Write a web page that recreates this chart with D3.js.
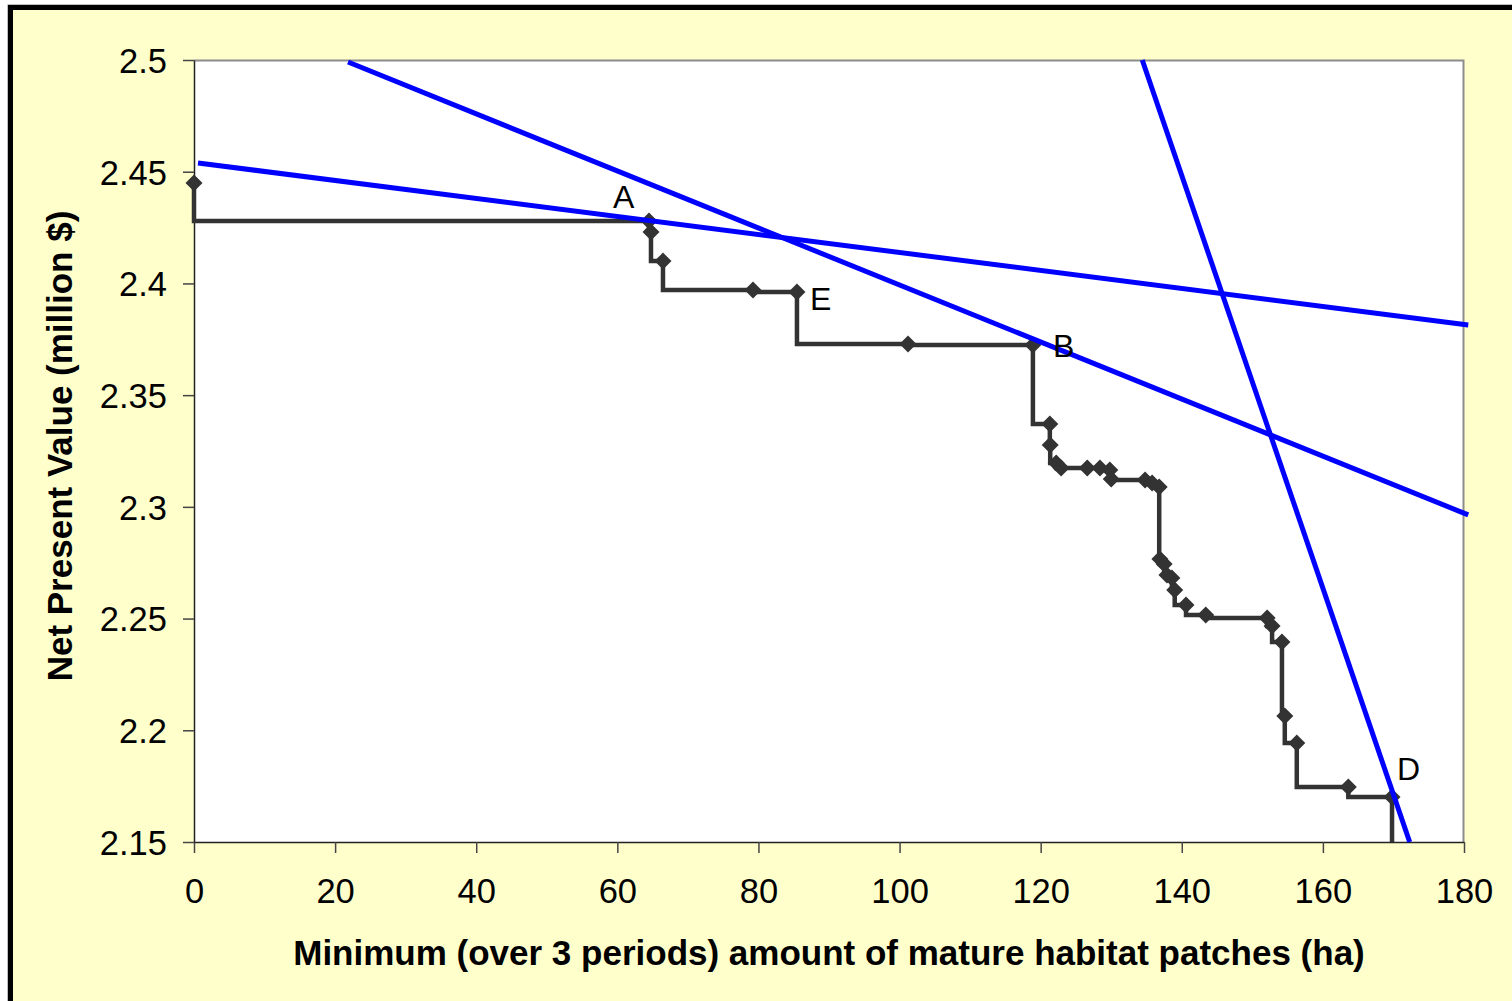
<!DOCTYPE html>
<html>
<head>
<meta charset="utf-8">
<script src="https://cdn.jsdelivr.net/npm/d3@7"></script>
<style>
  html, body { margin: 0; padding: 0; background: #ffffff; }
  svg { display: block; font-family: "Liberation Sans", Arial, sans-serif; }
</style>
</head>
<body>
<div id="chart-container"></div>
<script>
// Step frontier: minimum mature habitat (ha) vs NPV (million $)
const habitatHa = [
  0, 64.49, 64.77, 66.47, 79.23, 85.46, 101.2, 118.9, 121.3, 121.35,
  122.2, 122.9, 126.6, 128.4, 129.8, 130.0, 134.8, 135.8, 136.8, 136.9,
  137.5, 137.9, 138.6, 139.0, 140.6, 143.4, 152.1, 152.8, 154.2, 154.6,
  156.3, 163.6, 169.8, 169.8
];
const npvMillion = [
  2.4449, 2.4279, 2.423, 2.41, 2.3971, 2.3962, 2.3729, 2.3724, 2.3371, 2.3277,
  2.3196, 2.3174, 2.3174, 2.3174, 2.3165, 2.3125, 2.312, 2.3107, 2.3089, 2.2767,
  2.2744, 2.2695, 2.2682, 2.2628, 2.2561, 2.2516, 2.2503, 2.2467, 2.2395, 2.2064,
  2.1943, 2.1746, 2.1701, 2.15
];
// last point is only the drop to the axis, it carries no marker
const markerCount = 33;

// Straight blue lines (start and end, in data units)
const lineShallow = [[0.57, 2.4539], [180.6, 2.3814]];
const lineMedium = [[21.83, 2.4991], [180.6, 2.2964]];
const lineSteep = [[134.4, 2.5], [172.3, 2.15]];

// Point labels and the frontier point each one sits next to
const pointLabels = ["A", "E", "B", "D"];
const labelPointIndex = [1, 5, 7, 32];

const xTicks = [0, 20, 40, 60, 80, 100, 120, 140, 160, 180];
const yTicks = [2.15, 2.2, 2.25, 2.3, 2.35, 2.4, 2.45, 2.5];

const xTitle = "Minimum (over 3 periods) amount of mature habitat patches (ha)";
const yTitle = "Net Present Value (million $)";

const width = 1512;
const height = 1001;
const margin = { top: 60, right: 48, bottom: 159, left: 194 };
const plotW = width - margin.left - margin.right;
const plotH = height - margin.top - margin.bottom;

const svg = d3
  .select("#chart-container")
  .append("svg")
  .attr("width", width)
  .attr("height", height);

// Outer frame with pale yellow fill
svg
  .append("rect")
  .attr("x", 8)
  .attr("y", 5)
  .attr("width", width + 20)
  .attr("height", height + 20)
  .attr("fill", "#ffffcc")
  .attr("stroke", "#808080")
  .attr("stroke-width", 1);
svg
  .append("rect")
  .attr("x", 10.5)
  .attr("y", 7.5)
  .attr("width", width + 20)
  .attr("height", height + 20)
  .attr("fill", "none")
  .attr("stroke", "#000")
  .attr("stroke-width", 5);

const x = d3.scaleLinear().domain([0, 180]).range([0, plotW]);
const y = d3.scaleLinear().domain([2.15, 2.5]).range([plotH, 0]);

const g = svg
  .append("g")
  .attr("transform", `translate(${margin.left},${margin.top})`);

// Plot area
g.append("rect")
  .attr("width", plotW)
  .attr("height", plotH)
  .attr("fill", "#fff");
g.append("path")
  .attr("d", `M0,0.5H${plotW - 0.5}V${plotH}`)
  .attr("fill", "none")
  .attr("stroke", "#8c8c8c")
  .attr("stroke-width", 2);

// Axes
const xAxis = g
  .append("g")
  .attr("transform", `translate(0,${plotH})`)
  .call(d3.axisBottom(x).tickValues(xTicks).tickSize(11).tickSizeOuter(0).tickPadding(26));
const yAxis = g
  .append("g")
  .call(
    d3.axisLeft(y).tickValues(yTicks).tickFormat(d3.format("~g")).tickSize(11).tickSizeOuter(0).tickPadding(16)
  );

[xAxis, yAxis].forEach((ax) => {
  ax.select(".domain").attr("stroke", "#222").attr("stroke-width", 1.5);
  ax.selectAll(".tick line").attr("stroke", "#444").attr("stroke-width", 1.5);
  ax.selectAll(".tick text")
    .attr("fill", "#000")
    .style("font-size", "34.5px")
    .style("font-family", "'Liberation Sans', Arial, sans-serif");
});
yAxis.selectAll(".tick text").attr("dy", "0.36em");
xAxis.selectAll(".tick text").attr("dy", "0.71em");

// Axis titles
svg
  .append("text")
  .attr("x", margin.left + plotW / 2)
  .attr("y", 965)
  .attr("text-anchor", "middle")
  .style("font-size", "35px")
  .style("font-weight", "bold")
  .text(xTitle);
svg
  .append("text")
  .attr("transform", `translate(72,${margin.top + plotH / 2 - 5}) rotate(-90)`)
  .attr("text-anchor", "middle")
  .style("font-size", "35px")
  .style("font-weight", "bold")
  .text(yTitle);

// Step frontier
const points = habitatHa.map((h, i) => ({ h: h, v: npvMillion[i] }));
const stepLine = d3
  .line()
  .x((d) => x(d.h))
  .y((d) => y(d.v))
  .curve(d3.curveStepBefore);

g.append("path")
  .datum(points)
  .attr("d", stepLine)
  .attr("fill", "none")
  .attr("stroke", "#333333")
  .attr("stroke-width", 4.5)
  .attr("stroke-linejoin", "miter");

// Diamond markers
const r = 8.5;
g.selectAll(".marker")
  .data(points.slice(0, markerCount))
  .join("path")
  .attr("class", "marker")
  .attr("transform", (d) => `translate(${x(d.h)},${y(d.v)})`)
  .attr("d", `M0,${-r}L${r},0L0,${r}L${-r},0Z`)
  .attr("fill", "#333333");

// Blue lines
[lineShallow, lineMedium, lineSteep].forEach((ln) => {
  g.append("line")
    .attr("x1", x(ln[0][0]))
    .attr("y1", y(ln[0][1]))
    .attr("x2", x(ln[1][0]))
    .attr("y2", y(ln[1][1]))
    .attr("stroke", "#0000ff")
    .attr("stroke-width", 5);
});

// Point labels
const labelOffset = { A: [-36, -13], E: [13, 18], B: [20, 12], D: [5, -17] };
g.selectAll(".point-label")
  .data(pointLabels)
  .join("text")
  .attr("class", "point-label")
  .attr("x", (d, i) => x(points[labelPointIndex[i]].h) + labelOffset[d][0])
  .attr("y", (d, i) => y(points[labelPointIndex[i]].v) + labelOffset[d][1])
  .style("font-size", "32px")
  .attr("fill", "#000")
  .text((d) => d);
</script>
</body>
</html>
